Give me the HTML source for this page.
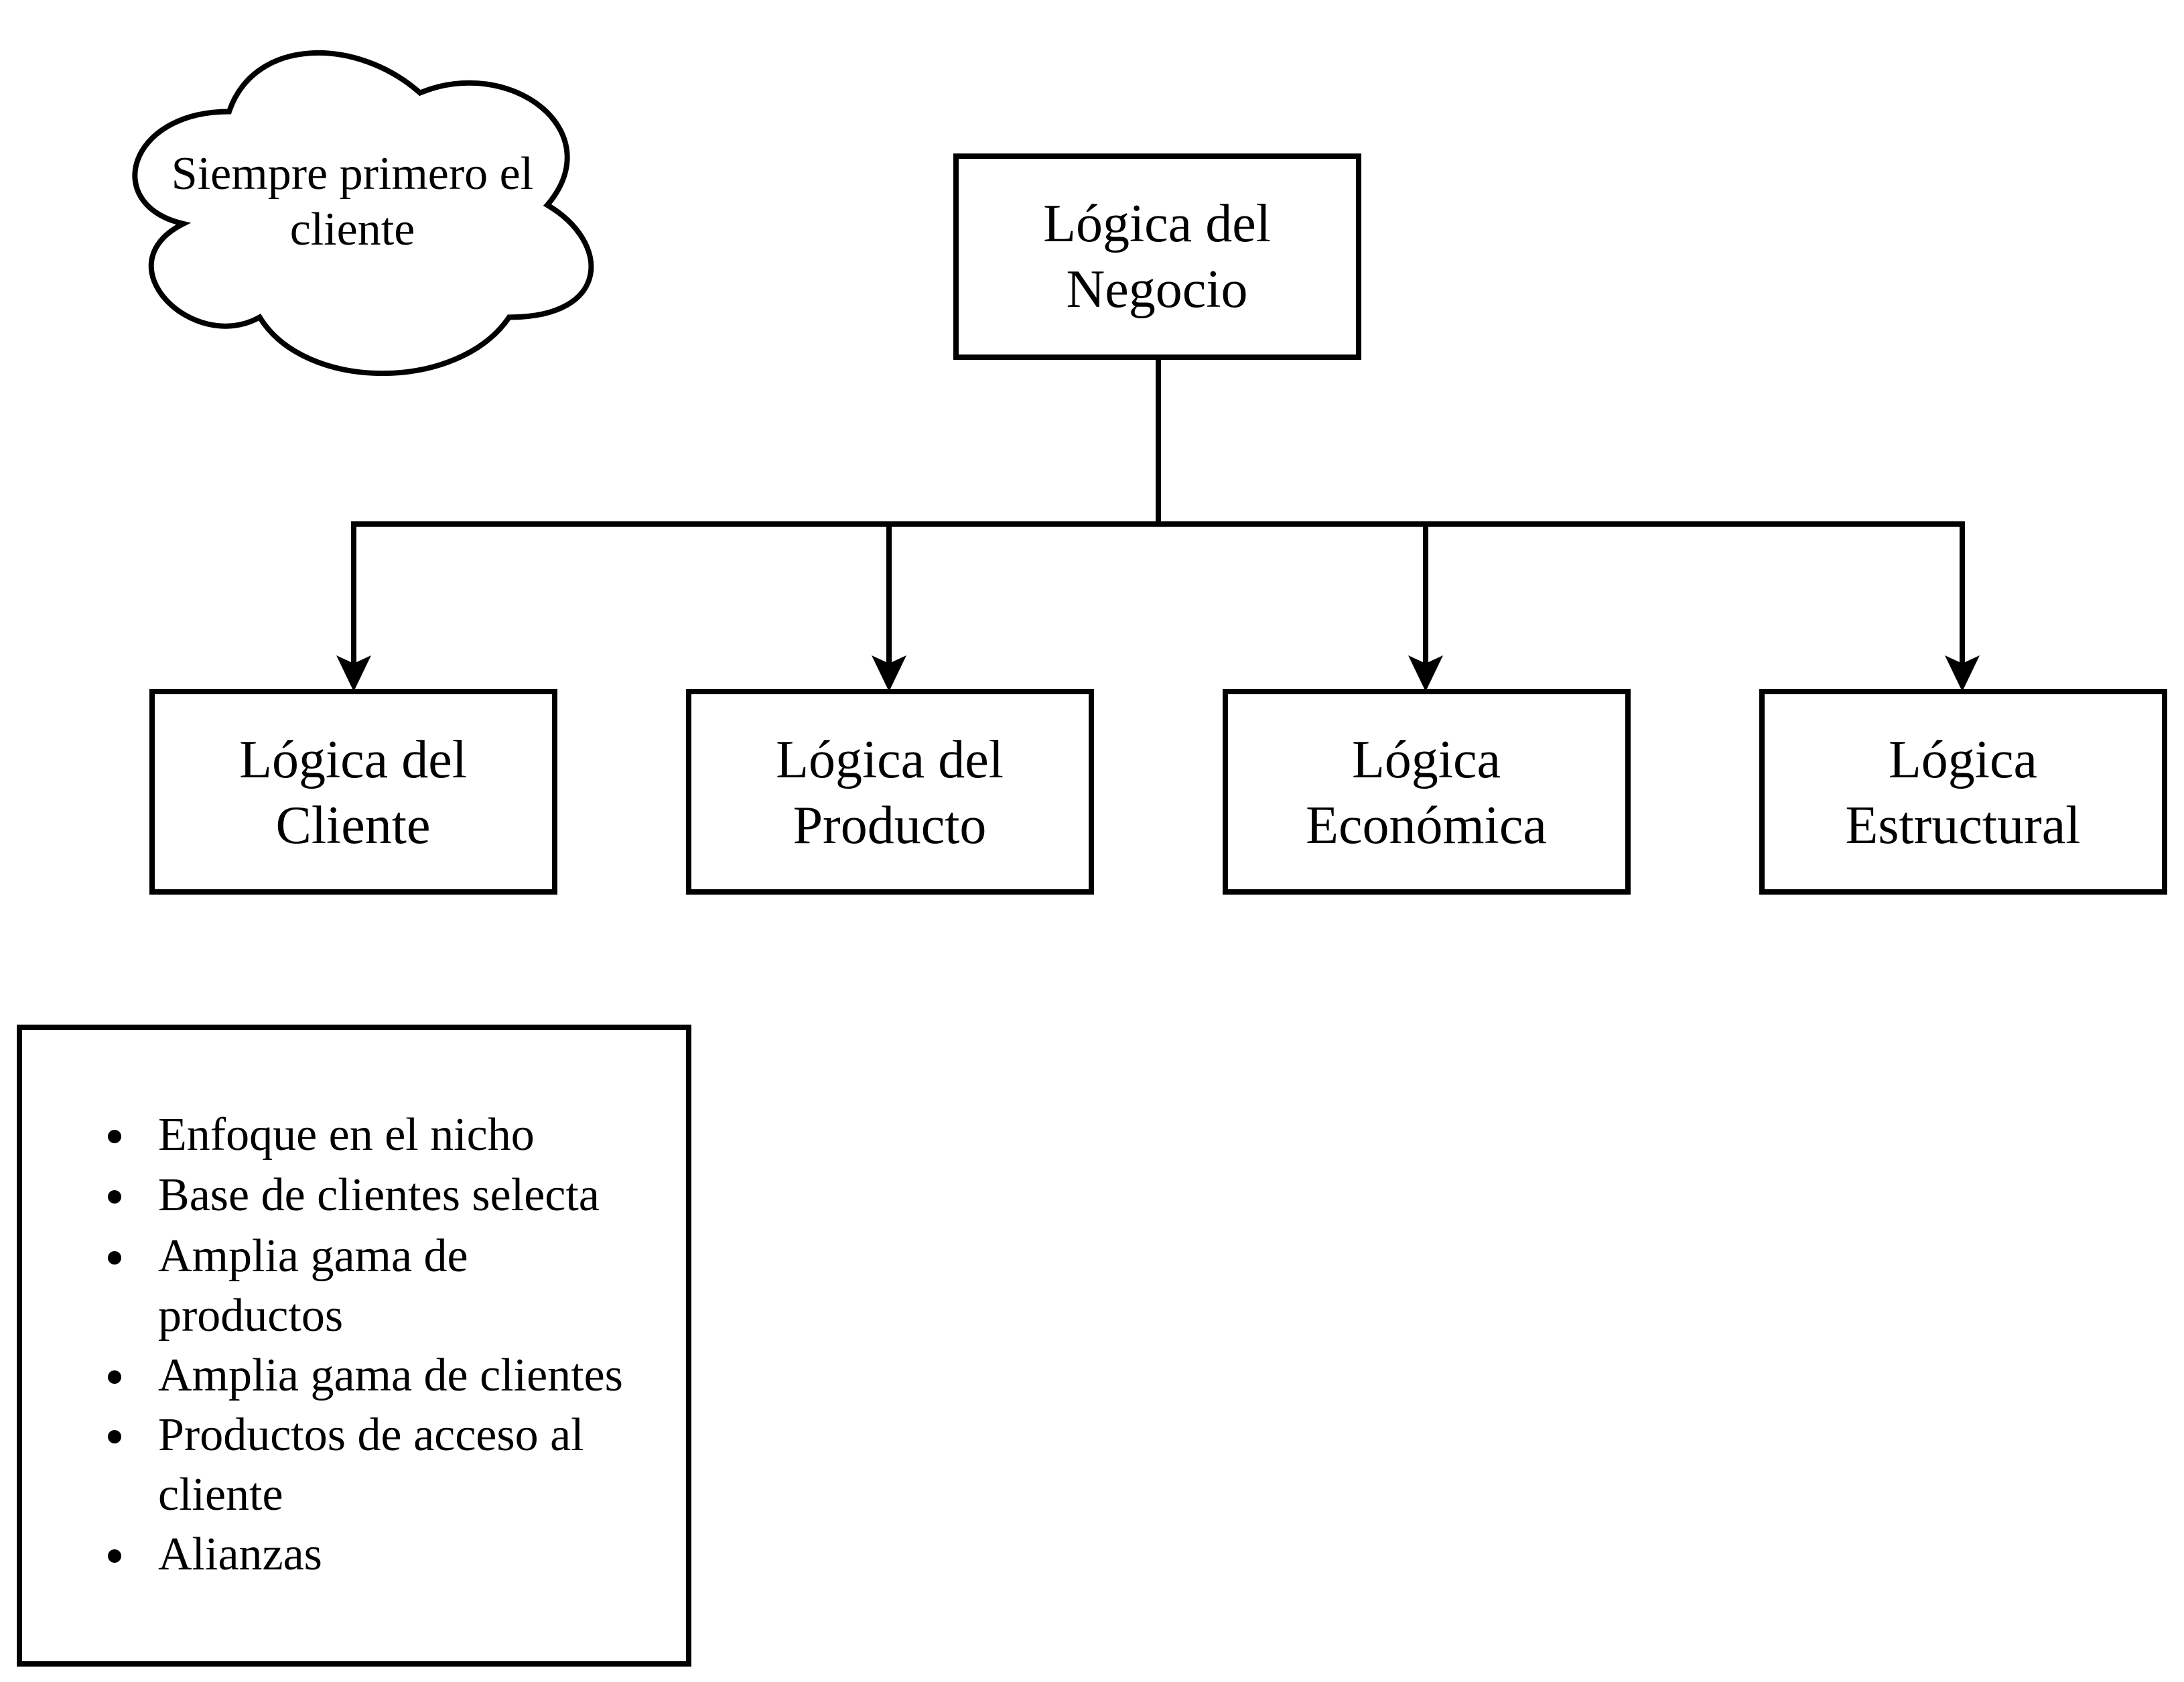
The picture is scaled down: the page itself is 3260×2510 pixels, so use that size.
<!DOCTYPE html>
<html><head><meta charset="utf-8"><style>
html,body{margin:0;padding:0;background:#fff;}
svg{display:block;}
text{font-family:"Liberation Serif",serif;fill:#000;}
</style></head><body>
<svg width="3260" height="2510" viewBox="0 0 3260 2510" xmlns="http://www.w3.org/2000/svg">
<rect width="3260" height="2510" fill="#fff"/>
<!-- cloud -->
<g transform="translate(152,27) scale(760,558)">
<path d="M0.25,0.25 C0.05,0.25 0,0.5 0.16,0.55 C0,0.66 0.18,0.9 0.31,0.8 C0.4,1 0.7,1 0.8,0.8 C1,0.8 1,0.6 0.875,0.5 C1,0.3 0.8,0.1 0.625,0.2 C0.5,0.05 0.3,0.05 0.25,0.25 Z" fill="#fff" stroke="#000" stroke-width="8" vector-effect="non-scaling-stroke"/>
</g>
<text x="526" y="282" font-size="70" text-anchor="middle">Siempre primero el</text>
<text x="526" y="365" font-size="70" text-anchor="middle">cliente</text>

<!-- connectors -->
<g stroke="#000" stroke-width="8" fill="none" stroke-linecap="square">
<line x1="1729" y1="533" x2="1729" y2="782"/>
<line x1="528" y1="782" x2="2929" y2="782"/>
<line x1="528" y1="782" x2="528" y2="1000"/>
<line x1="1327" y1="782" x2="1327" y2="1000"/>
<line x1="2128" y1="782" x2="2128" y2="1000"/>
<line x1="2929" y1="782" x2="2929" y2="1000"/>
</g>
<g fill="#000">
<path d="M528,1032 L502,978 L528,990 L554,978 Z"/>
<path d="M1327,1032 L1301,978 L1327,990 L1353,978 Z"/>
<path d="M2128,1032 L2102,978 L2128,990 L2154,978 Z"/>
<path d="M2929,1032 L2903,978 L2929,990 L2955,978 Z"/>
</g>

<!-- boxes -->
<g fill="#fff" stroke="#000" stroke-width="8">
<rect x="1427" y="233" width="601" height="300"/>
<rect x="227" y="1032" width="601" height="299"/>
<rect x="1028" y="1032" width="601" height="299"/>
<rect x="1829" y="1032" width="601" height="299"/>
<rect x="2630" y="1032" width="601" height="299"/>
<rect x="29" y="1533" width="999" height="950"/>
</g>

<g font-size="80" text-anchor="middle">
<text x="1727" y="360">Lógica del</text>
<text x="1727" y="458">Negocio</text>
<text x="527" y="1160">Lógica del</text>
<text x="527" y="1258">Cliente</text>
<text x="1328" y="1160">Lógica del</text>
<text x="1328" y="1258">Producto</text>
<text x="2129" y="1160">Lógica</text>
<text x="2129" y="1258">Económica</text>
<text x="2930" y="1160">Lógica</text>
<text x="2930" y="1258">Estructural</text>
</g>

<g font-size="70">
<text x="236" y="1716">Enfoque en el nicho</text>
<text x="236" y="1806">Base de clientes selecta</text>
<text x="236" y="1897">Amplia gama de</text>
<text x="236" y="1986">productos</text>
<text x="236" y="2075">Amplia gama de clientes</text>
<text x="236" y="2164">Productos de acceso al</text>
<text x="236" y="2253">cliente</text>
<text x="236" y="2342">Alianzas</text>
</g>
<g fill="#000">
<circle cx="171" cy="1696" r="10"/>
<circle cx="171" cy="1786" r="10"/>
<circle cx="171" cy="1877" r="10"/>
<circle cx="171" cy="2055" r="10"/>
<circle cx="171" cy="2144" r="10"/>
<circle cx="171" cy="2322" r="10"/>
</g>
</svg>
</body></html>
